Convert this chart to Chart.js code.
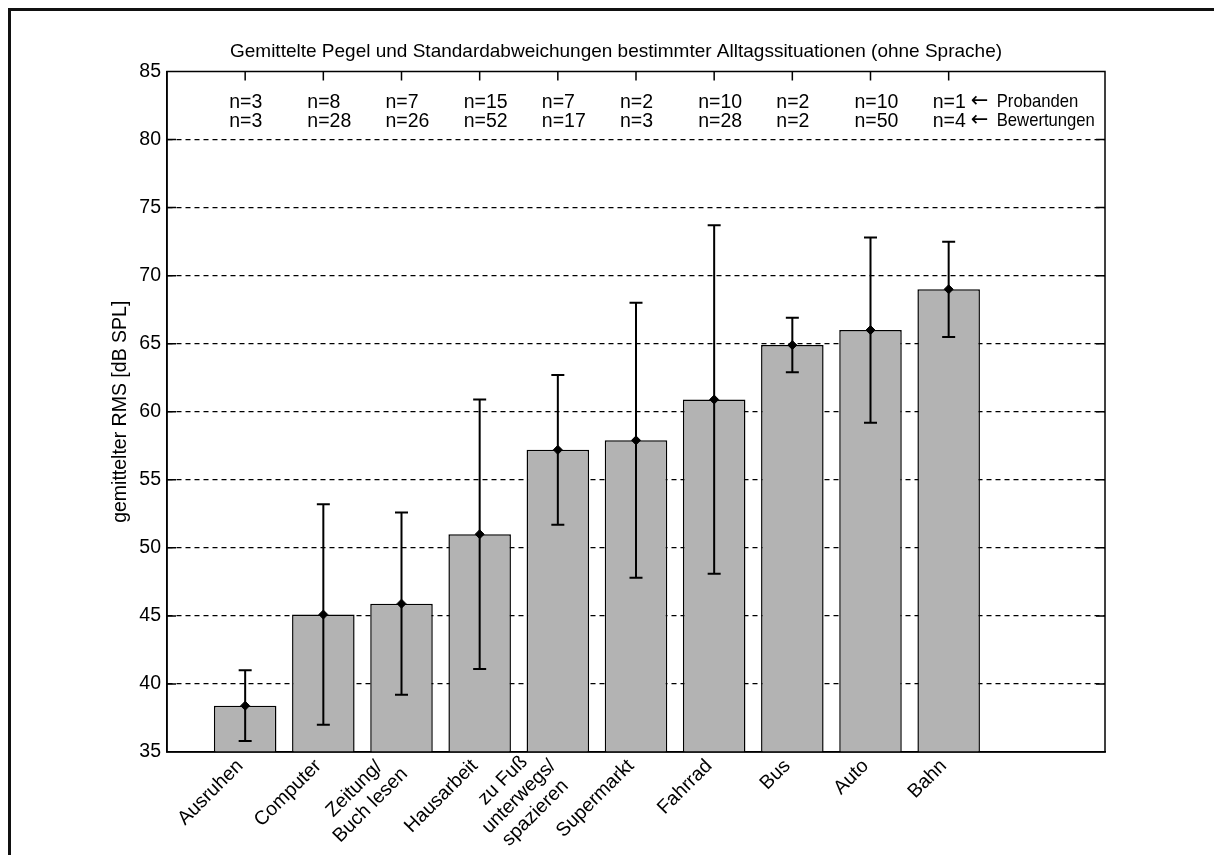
<!DOCTYPE html>
<html>
<head>
<meta charset="utf-8">
<script src="https://cdn.jsdelivr.net/npm/chart.js@4.4.1/dist/chart.umd.min.js"></script>
<style>
  html, body { margin: 0; padding: 0; background: #ffffff; }
  #wrap { width: 1214px; height: 855px; position: relative; }
</style>
</head>
<body>
<div id="wrap"><canvas id="chart"></canvas></div>
<script>
// Everyday situations (without speech): category labels, one array entry per line
const categories = [
  ['Ausruhen'],
  ['Computer'],
  ['Zeitung/', 'Buch lesen'],
  ['Hausarbeit'],
  ['zu Fuß', 'unterwegs/', 'spazieren'],
  ['Supermarkt'],
  ['Fahrrad'],
  ['Bus'],
  ['Auto'],
  ['Bahn']
];

// Mean RMS level in dB SPL and its standard deviation
const meanLevels = [38.4, 45.1, 45.9, 51.0, 57.2, 57.9, 60.9, 64.9, 66.0, 69.0];
const stdDevs    = [2.6, 8.1, 6.7, 9.9, 5.5, 10.1, 12.8, 2.0, 6.8, 3.5];

// Number of participants and number of ratings per situation
const nProbanden    = [3, 8, 7, 15, 7, 2, 10, 2, 10, 1];
const nBewertungen  = [3, 28, 26, 52, 17, 3, 28, 2, 50, 4];
const countLegend   = ['Probanden', 'Bewertungen'];

// Value axis
const yTickValues = [35, 40, 45, 50, 55, 60, 65, 70, 75, 80, 85];

const titleText = 'Gemittelte Pegel und Standardabweichungen bestimmter Alltagssituationen (ohne Sprache)';
const yAxisTitle = 'gemittelter RMS [dB SPL]';

const FONT = '"Liberation Sans", Arial, Helvetica, sans-serif';
const FS = 19.5;

const barPoints = meanLevels.map((v, i) => ({ x: i + 1, y: v }));

// Frame, title, tick marks, n-annotations, rotated category labels, error bars
const figurePlugin = {
  id: 'figurePlugin',
  afterDatasetDraw(chart, args) {
    if (args.index !== 0) return;
    const { ctx, scales: { x, y } } = chart;
    ctx.save();
    ctx.strokeStyle = '#000';
    ctx.lineWidth = 2;
    const cap = 6.5;
    meanLevels.forEach((m, i) => {
      const px = x.getPixelForValue(i + 1);
      const top = y.getPixelForValue(m + stdDevs[i]);
      const bot = y.getPixelForValue(m - stdDevs[i]);
      ctx.beginPath();
      ctx.moveTo(px, top); ctx.lineTo(px, bot);
      ctx.moveTo(px - cap, top); ctx.lineTo(px + cap, top);
      ctx.moveTo(px - cap, bot); ctx.lineTo(px + cap, bot);
      ctx.stroke();
    });
    ctx.restore();
  },
  afterDraw(chart) {
    const { ctx, chartArea: a, scales: { x, y } } = chart;
    ctx.save();

    // outer figure border
    ctx.strokeStyle = '#111';
    ctx.lineWidth = 3;
    ctx.beginPath();
    ctx.moveTo(9.5, 860); ctx.lineTo(9.5, 9.5); ctx.lineTo(1220, 9.5);
    ctx.stroke();

    // axes box
    ctx.strokeStyle = '#000';
    ctx.lineWidth = 1.5;
    ctx.strokeRect(a.left, a.top, a.right - a.left, a.bottom - a.top);

    // inward tick marks
    const tl = 9;
    ctx.lineWidth = 1.5;
    ctx.beginPath();
    for (let i = 0; i < categories.length; i++) {
      const px = x.getPixelForValue(i + 1);
      ctx.moveTo(px, a.top); ctx.lineTo(px, a.top + tl);
    }
    yTickValues.forEach(v => {
      if (v === yTickValues[0] || v === yTickValues[yTickValues.length - 1]) return;
      const py = y.getPixelForValue(v);
      ctx.moveTo(a.left, py); ctx.lineTo(a.left + tl, py);
      ctx.moveTo(a.right, py); ctx.lineTo(a.right - tl, py);
    });
    ctx.stroke();

    // title
    ctx.fillStyle = '#000';
    ctx.font = '19px ' + FONT;
    ctx.textAlign = 'center';
    ctx.textBaseline = 'alphabetic';
    ctx.fillText(titleText, 616, 57);

    // n annotations (participants / ratings)
    ctx.textAlign = 'left';
    const rowsY = [107.5, 126.5];
    for (let i = 0; i < categories.length; i++) {
      const px = x.getPixelForValue(i + 1) - 16;
      ctx.font = FS + 'px ' + FONT;
      const t1 = 'n=' + nProbanden[i];
      const t2 = 'n=' + nBewertungen[i];
      ctx.fillText(t1, px, rowsY[0]);
      ctx.fillText(t2, px, rowsY[1]);
      if (i === categories.length - 1) {
        [t1, t2].forEach((t, r) => {
          ctx.font = FS + 'px ' + FONT;
          const ax = px + ctx.measureText(t).width + 5;
          ctx.font = '21px "DejaVu Sans", sans-serif';
          ctx.fillText('\u2190', ax, rowsY[r] - 1);
          // slightly condensed legend words
          ctx.save();
          ctx.translate(ax + 26, rowsY[r] - 1);
          ctx.scale(0.9, 1);
          ctx.font = '18.5px ' + FONT;
          ctx.fillText(countLegend[r], 0, 0);
          ctx.restore();
        });
      }
    }

    // rotated category labels
    ctx.font = FS + 'px ' + FONT;
    ctx.textAlign = 'center';
    ctx.textBaseline = 'middle';
    const lineStep = 23;
    categories.forEach((lines, i) => {
      const px = x.getPixelForValue(i + 1) - 5;
      const py = a.bottom + 11;
      const w = Math.max(...lines.map(t => ctx.measureText(t).width));
      ctx.save();
      ctx.translate(px, py);
      ctx.rotate(-Math.PI / 4);
      lines.forEach((t, j) => {
        ctx.fillText(t, -w / 2, (j - (lines.length - 1) / 2) * lineStep);
      });
      ctx.restore();
    });

    ctx.restore();
  }
};

new Chart(document.getElementById('chart'), {
  type: 'bar',
  data: {
    datasets: [
      {
        type: 'bar',
        data: barPoints,
        backgroundColor: '#b3b3b3',
        borderColor: '#000',
        borderWidth: 1.5,
        borderSkipped: false,
        barPercentage: 0.8,
        categoryPercentage: 1.0,
        order: 2
      },
      {
        type: 'line',
        data: barPoints,
        showLine: false,
        pointStyle: 'rectRot',
        pointRadius: 4.5,
        pointBackgroundColor: '#000',
        pointBorderColor: '#000',
        pointBorderWidth: 1,
        order: 1
      }
    ]
  },
  options: {
    responsive: true,
    maintainAspectRatio: false,
    animation: false,
    events: [],
    layout: { padding: { left: 0, top: 71.5, right: 109, bottom: 0 } },
    plugins: { legend: { display: false }, tooltip: { enabled: false }, title: { display: false } },
    scales: {
      x: {
        type: 'linear',
        offset: false,
        min: 0,
        max: 12,
        ticks: { display: false, stepSize: 1 },
        grid: { display: false, drawTicks: false, offset: false },
        border: { display: true, color: '#000', width: 1.5 },
        afterFit(scale) { scale.height = 103; }
      },
      y: {
        min: 35,
        max: 85,
        afterBuildTicks(scale) { scale.ticks = yTickValues.map(v => ({ value: v })); },
        ticks: {
          color: '#000',
          font: { family: FONT, size: FS },
          padding: 6
        },
        grid: {
          drawTicks: false,
          color: c => (c.tick && (c.tick.value === 35 || c.tick.value === 85)) ? 'rgba(0,0,0,0)' : '#000',
          lineWidth: 1.2
        },
        border: { display: true, color: '#000', width: 1.5, dash: [5, 4] },
        title: {
          display: true,
          text: yAxisTitle,
          color: '#000',
          font: { family: FONT, size: FS },
          padding: { top: 108.5, bottom: 0 }
        },
        afterFit(scale) { scale.width = 167; }
      }
    }
  },
  plugins: [figurePlugin]
});
</script>
</body>
</html>
